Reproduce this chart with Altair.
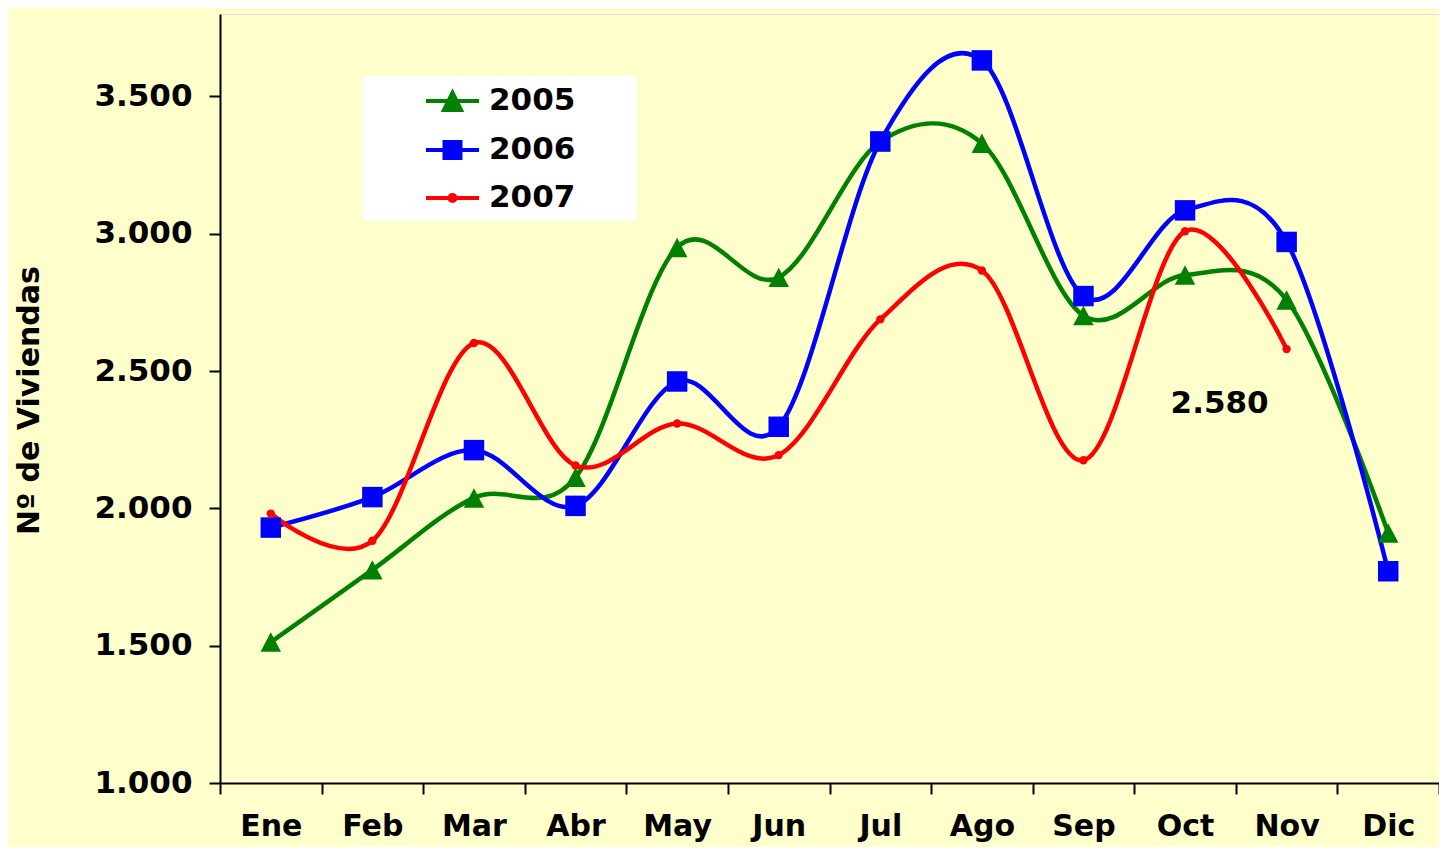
import altair as alt
import pandas as pd

meses = ["Ene", "Feb", "Mar", "Abr", "May", "Jun", "Jul", "Ago", "Sep", "Oct", "Nov", "Dic"]
v2005 = [1513, 1776, 2038, 2113, 2950, 2841, 3335, 3329, 2702, 2850, 2759, 1910]
v2006 = [1930, 2041, 2212, 2009, 2462, 2297, 3336, 3631, 2773, 3085, 2970, 1771]
v2007 = [1981, 1882, 2602, 2156, 2309, 2194, 2688, 2866, 2175, 3009, 2580]
series = ["2005", "2006", "2007"]
colores = ["#008000", "#0000FF", "#FF0000"]
ticks_y = [1000, 1500, 2000, 2500, 3000, 3500]
titulo_y = "Nº de Viviendas"
etiqueta_mes = "Nov"
etiqueta_serie = "2007"

rows = []
for s, vals in zip(series, [v2005, v2006, v2007]):
    for m, v in zip(meses, vals):
        rows.append({"mes": m, "serie": s, "valor": v})
df = pd.DataFrame(rows)

FONT = "DejaVu Sans"
fmt = "replace(format(datum.value, ',.0f'), ',', '.')"

tri = "M0,-0.95L1,0.95L-1,0.95Z"
marker_shapes = [tri, "square", "circle"]

# legend glyphs: line segment + marker, drawn to the right of the nominal symbol slot
ext = "M15.53,0"
seg = "M2.53,0H6.07"
leg_tri = ext + seg + "M4.3,-0.55L4.87,0.6L3.73,0.6Z"
leg_sq = ext + seg + "M3.767,-0.533H4.833V0.533H3.767Z"
leg_ci = ext + seg + "M4.1,0A0.2,0.2 0 1,0 4.5,0A0.2,0.2 0 1,0 4.1,0Z"
legend_shapes = [leg_tri, leg_sq, leg_ci]

x_enc = alt.X(
    "mes:N",
    sort=meses,
    bandPosition=0.5,
    scale=alt.Scale(type="band", paddingInner=0, paddingOuter=0),
    axis=alt.Axis(
        title=None,
        labelAngle=0,
        labelFont=FONT,
        labelFontSize=30,
        labelFontWeight="bold",
        labelColor="black",
        labelPadding=17,
        tickBand="extent",
        tickSize=11,
        tickColor="black",
        tickWidth=2,
        domainColor="black",
        domainWidth=2,
        grid=False,
    ),
)
y_enc = alt.Y(
    "valor:Q",
    scale=alt.Scale(domain=[1000, 3800], nice=False, zero=False),
    axis=alt.Axis(
        title=titulo_y,
        titleFont=FONT,
        titleFontSize=30,
        titleFontWeight="bold",
        titleColor="black",
        titleAngle=270,
        titleX=-182,
        titleY=386,
        titleAlign="center",
        titleBaseline="alphabetic",
        values=ticks_y,
        labelExpr=fmt,
        labelFont=FONT,
        labelFontSize=31,
        labelFontWeight="bold",
        labelColor="black",
        labelPadding=17,
        tickSize=11,
        tickColor="black",
        tickWidth=2,
        domainColor="black",
        domainWidth=2,
        grid=False,
    ),
)

color_enc = alt.Color("serie:N", scale=alt.Scale(domain=series, range=colores), legend=None)

base = alt.Chart(df)

lines = base.mark_line(interpolate="cardinal", strokeWidth=4.5).encode(
    x=x_enc, y=y_enc, color=color_enc, detail="serie:N"
)

points = base.mark_point(filled=True, opacity=1).transform_calculate(
    msize="datum.serie === '2007' ? 70 : 420"
).encode(
    x=x_enc,
    y=y_enc,
    color=color_enc,
    shape=alt.Shape("serie:N", scale=alt.Scale(domain=series, range=marker_shapes), legend=None),
    size=alt.Size("msize:Q", scale=None, legend=None),
)

label = base.transform_filter(
    (alt.datum.mes == etiqueta_mes) & (alt.datum.serie == etiqueta_serie)
).transform_calculate(
    txt="replace(format(datum.valor, ',.0f'), ',', '.')"
).mark_text(
    font=FONT, fontSize=31, fontWeight="bold", color="black", dx=-67, dy=55
).encode(x=x_enc, y=y_enc, text="txt:N")

leg = alt.Legend(
    title=None,
    orient="none",
    legendX=143,
    legendY=62,
    fillColor="white",
    padding=8,
    labelFont=FONT,
    labelFontSize=31,
    labelFontWeight="bold",
    labelColor="black",
    labelOffset=84,
    symbolSize=900,
    symbolStrokeWidth=4,
    symbolOpacity=1,
    rowPadding=15,
)

legend_layer = base.transform_filter("false").mark_point(filled=True, strokeWidth=4).encode(
    x=x_enc,
    y=y_enc,
    fill=alt.Fill("serie:N", scale=alt.Scale(domain=series, range=colores), legend=leg),
    stroke=alt.Stroke("serie:N", scale=alt.Scale(domain=series, range=colores), legend=leg),
    shape=alt.Shape("serie:N", scale=alt.Scale(domain=series, range=legend_shapes), legend=leg),
)

chart = (
    alt.layer(lines, points, label, legend_layer)
    .resolve_scale(shape="independent", fill="independent", stroke="independent")
    .properties(
        width=1219,
        height=769,
        padding={"left": 212, "top": 6, "right": 0, "bottom": 64},
        autosize=alt.AutoSizeParams(type="none"),
        background="#FFFFCC",
    )
    .configure_view(stroke=None)
    .configure(font=FONT)
)

chart.save("out.html", embed_options={"renderer": "svg", "actions": False})
